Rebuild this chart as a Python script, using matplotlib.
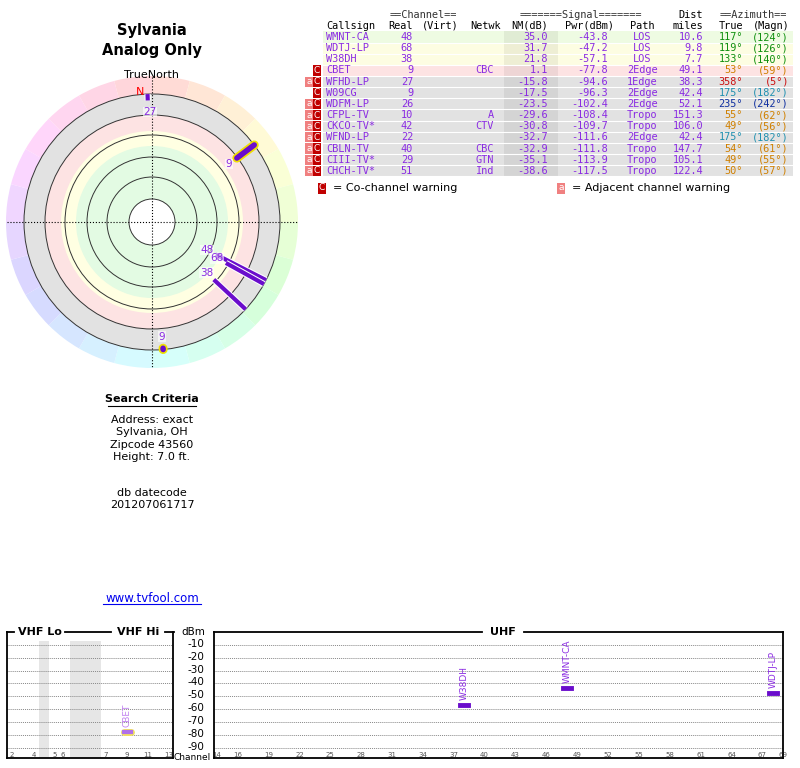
import matplotlib
matplotlib.use("Agg")
import matplotlib.pyplot as plt
import matplotlib.patches as mp
import numpy as np
import colorsys

callsigns = ["WMNT-CA","WDTJ-LP","W38DH","CBET","WFHD-LP","W09CG","WDFM-LP","CFPL-TV","CKCO-TV*","WFND-LP","CBLN-TV","CIII-TV*","CHCH-TV*"]
real_ch = [48,68,38,9,27,9,26,10,42,22,40,29,51]
netwk = ["","","","CBC","","","","A","CTV","","CBC","GTN","Ind"]
nm_db = [35.0,31.7,21.8,1.1,-15.8,-17.5,-23.5,-29.6,-30.8,-32.7,-32.9,-35.1,-38.6]
pwr_dbm = [-43.8,-47.2,-57.1,-77.8,-94.6,-96.3,-102.4,-108.4,-109.7,-111.6,-111.8,-113.9,-117.5]
path = ["LOS","LOS","LOS","2Edge","1Edge","2Edge","2Edge","Tropo","Tropo","2Edge","Tropo","Tropo","Tropo"]
dist = [10.6,9.8,7.7,49.1,38.3,42.4,52.1,151.3,106.0,42.4,147.7,105.1,122.4]
az_true = [117,119,133,53,358,175,235,55,49,175,54,49,50]
az_magn = [124,126,140,59,5,182,242,62,56,182,61,55,57]
warn_a = [False,False,False,False,True,False,True,True,True,True,True,True,True]
warn_c = [False,False,False,True,True,True,True,True,True,True,True,True,True]

# radar: stations drawn, with inner start radius (fraction of outer ring)
radar_ch = [48,68,38,9,27,9]
radar_az = [117,119,133,53,358,175]
radar_start = [0.56,0.66,0.66,0.83,0.95,0.99]
radar_analog = [False,False,False,True,False,True]

spec_call = ["CBET","W38DH","WMNT-CA","WDTJ-LP"]
spec_ch = [9,38,48,68]
spec_pwr = [-77.8,-57.1,-43.8,-47.2]
spec_analog = [True,False,False,False]

dbm_ticks = [-10,-20,-30,-40,-50,-60,-70,-80,-90]
vhf_ticks = [2,4,5,6,7,9,11,13]
uhf_ticks = [14,16,19,22,25,28,31,34,37,40,43,46,49,52,55,58,61,64,67,69]

PURPLE = "#8a2be2"
fig = plt.figure(figsize=(8,7.68), dpi=100)
ax = fig.add_axes([0,0,1,1])
ax.set_xlim(0,800); ax.set_ylim(768,0); ax.axis("off")
mono = "DejaVu Sans Mono"

# ---- left titles
ax.text(152,30,"Sylvania",ha="center",va="center",fontsize=10.5,fontweight="bold")
ax.text(152,51,"Analog Only",ha="center",va="center",fontsize=10.5,fontweight="bold")
ax.text(152,75,"TrueNorth",ha="center",va="center",fontsize=8)

# ---- radar
cx, cy = 152, 222
R = 128
for a0 in range(0,360,15):
    h = ((a0+7.5)/360.0) % 1.0
    r,g,b = colorsys.hsv_to_rgb(h,1,1)
    col = (1-0.16*(1-r),1-0.16*(1-g),1-0.16*(1-b))
    ax.add_patch(mp.Wedge((cx,cy),146,a0-90,a0+15-90,width=18,color=col,lw=0))
bands = [(128,"#e2e2e2"),(107,"#fde3e3"),(91,"#ffffe2"),(76,"#e3fbe3")]
for rr,c in bands:
    ax.add_patch(mp.Circle((cx,cy),rr,color=c,lw=0))
ax.add_patch(mp.Circle((cx,cy),23,color="white",lw=0))
for rr in [128,107,87,65,45,23]:
    ax.add_patch(mp.Circle((cx,cy),rr,fill=False,ec="#333333",lw=0.7))
ax.plot([7,297],[cy,cy],color="black",ls=":",lw=0.8)
ax.plot([cx,cx],[77,367],color="black",ls=":",lw=0.8)
ax.text(140,92,"N",color="red",fontsize=8,ha="center",va="center")
for ch,az,st,an in zip(radar_ch,radar_az,radar_start,radar_analog):
    t = np.deg2rad(az)
    dx, dy = np.sin(t), -np.cos(t)
    r0 = st*R
    x0,y0,x1,y1 = cx+r0*dx, cy+r0*dy, cx+R*dx, cy+R*dy
    if an:
        ax.plot([x0,x1],[y0,y1],color="#f0e000",lw=6.5,solid_capstyle="round")
        ax.plot([x0,x1],[y0,y1],color="#6a0dcc",lw=4,solid_capstyle="round")
    else:
        ax.plot([x0,x1],[y0,y1],color="white",lw=4.5,solid_capstyle="butt")
        ax.plot([x0,x1],[y0,y1],color="#6a0dcc",lw=3,solid_capstyle="butt")
    rl = r0-10 if r0 < R-5 else R-13
    lx, ly = cx+rl*dx, cy+rl*dy
    if az == 175: lx, ly = cx+(R-13)*dx, cy+(R-13)*dy
    if az == 358: lx, ly = cx+(R-18)*dx+2, cy+(R-18)*dy
    ax.text(lx,ly,str(ch),color=PURPLE,fontsize=7.5,ha="center",va="center",
            bbox=dict(fc="white",ec="none",alpha=0.6,pad=0.3))

# ---- search criteria
ax.text(152,399,"Search Criteria",ha="center",va="center",fontsize=8,fontweight="bold")
ax.plot([108,196],[406,406],color="black",lw=0.8)
for i,s in enumerate(["Address: exact","Sylvania, OH","Zipcode 43560","Height: 7.0 ft."]):
    ax.text(152,420+12.3*i,s,ha="center",va="center",fontsize=8)
ax.text(152,493,"db datecode",ha="center",va="center",fontsize=8)
ax.text(152,505,"201207061717",ha="center",va="center",fontsize=8)
ax.text(152,598,"www.tvfool.com",ha="center",va="center",fontsize=8.5,color="#0000ee")
ax.plot([103,201],[604,604],color="#0000ee",lw=0.8)

# ---- table
fs = 7.4
y0 = 37; dy = 11.15
ax.text(423,15,"==Channel==",fontfamily=mono,fontsize=fs,ha="center",va="center",color="#333333")
ax.text(581,15,"=======Signal=======",fontfamily=mono,fontsize=fs,ha="center",va="center",color="#333333")
ax.text(703,15,"Dist",fontfamily=mono,fontsize=fs,ha="right",va="center")
ax.text(753,15,"==Azimuth==",fontfamily=mono,fontsize=fs,ha="center",va="center",color="#333333")
hdr = [(326,"Callsign","left"),(413,"Real","right"),(459,"(Virt)","right"),(501,"Netwk","right"),
       (548,"NM(dB)","right"),(614,"Pwr(dBm)","right"),(642,"Path","center"),(703,"miles","right"),
       (743,"True","right"),(790,"(Magn)","right")]
for x,s,ha in hdr:
    ax.text(x,26,s,fontfamily=mono,fontsize=fs,ha=ha,va="center")
def azcol(a):
    if a in (117,119,133): return "#109010"
    if a == 358: return "#cc1010"
    if a == 175: return "#2090b0"
    if a == 235: return "#1030a0"
    return "#d08000"
for i in range(len(callsigns)):
    y = y0+dy*i
    bg = "#eefbe2" if i == 0 else ("#fdfde2" if i < 3 else ("#fde3e3" if i == 3 else "#e2e2e2"))
    ax.add_patch(mp.Rectangle((323,y-dy/2),470,dy,color=bg,lw=0))
    ax.plot([323,793],[y+dy/2,y+dy/2],color="white",lw=0.8)
    ax.add_patch(mp.Rectangle((504,y-dy/2),54,dy,color="black",alpha=0.06,lw=0))
    if warn_c[i]:
        ax.add_patch(mp.Rectangle((313,y-dy/2+0.5),8,dy-1,color="#c00000",lw=0))
        ax.text(317,y,"C",color="white",fontsize=6.5,ha="center",va="center")
    if warn_a[i]:
        ax.add_patch(mp.Rectangle((305,y-dy/2+0.5),8,dy-1,color="#f08080",lw=0))
        ax.text(309,y,"a",color="white",fontsize=6.5,ha="center",va="center")
    kw = dict(fontfamily=mono,fontsize=fs,va="center",color=PURPLE)
    ax.text(326,y,callsigns[i],ha="left",**kw)
    ax.text(413,y,str(real_ch[i]),ha="right",**kw)
    ax.text(494,y,netwk[i],ha="right",**kw)
    ax.text(548,y,f"{nm_db[i]:.1f}",ha="right",**kw)
    ax.text(608,y,f"{pwr_dbm[i]:.1f}",ha="right",**kw)
    ax.text(642,y,path[i],ha="center",**kw)
    ax.text(703,y,f"{dist[i]:.1f}",ha="right",**kw)
    kw["color"] = azcol(az_true[i])
    ax.text(743,y,f"{az_true[i]}°",ha="right",**kw)
    ax.text(789,y,f"({az_magn[i]}°)",ha="right",**kw)
ly = 188
ax.add_patch(mp.Rectangle((318,ly-5.5),8,11,color="#c00000",lw=0))
ax.text(322,ly,"C",color="white",fontsize=6.5,ha="center",va="center")
ax.text(333,ly,"= Co-channel warning",fontsize=8,va="center")
ax.add_patch(mp.Rectangle((557,ly-5.5),8,11,color="#f08080",lw=0))
ax.text(561,ly,"a",color="white",fontsize=6.5,ha="center",va="center")
ax.text(572,ly,"= Adjacent channel warning",fontsize=8,va="center")

# ---- spectrum
def px2fig(x0,x1,ytop,ybot):
    return [x0/800,1-ybot/768,(x1-x0)/800,(ybot-ytop)/768]
vhf_pos = [12,34,55,63,106,127,148,169]
vax = fig.add_axes(px2fig(7,173,632,758))
uax = fig.add_axes(px2fig(214,783,632,758))
for a in (vax,uax):
    a.set_ylim(-98,0)
    a.patch.set_alpha(0)
    a.spines["top"].set_visible(False)
    for s in a.spines.values(): s.set_linewidth(1.3)
    a.set_yticks([])
    for v in dbm_ticks:
        a.axhline(v,color="#888888",ls=(0,(1,1)),lw=0.7)
    a.tick_params(axis="x",length=0,labelsize=5,pad=-4)
vax.set_xlim(7,173)
vax.axvspan(39,49,ymax=0.93,color="#e6e6e6",lw=0)
vax.axvspan(70,101,ymax=0.93,color="#e6e6e6",lw=0)
vax.set_xticks(vhf_pos); vax.set_xticklabels([str(t) for t in vhf_ticks])
uax.set_xlim(13.7,68.6)
uax.set_xticks(uhf_ticks); uax.set_xticklabels([str(t) for t in uhf_ticks])
for a in (vax,uax):
    for lab in a.get_xticklabels():
        lab.set_bbox(dict(fc="white",ec="none",pad=0.5))
        lab.set_color("#555555")
for xa,xb in [(7,14),(65,111),(165,174),(214,482),(524,783)]:
    ax.plot([xa,xb],[632,632],color="black",lw=1.3)
ax.text(40,632,"VHF Lo",fontsize=8,fontweight="bold",ha="center",va="center")
ax.text(138,632,"VHF Hi",fontsize=8,fontweight="bold",ha="center",va="center")
ax.text(503,632,"UHF",fontsize=8,fontweight="bold",ha="center",va="center")
ax.text(193,632,"dBm",fontsize=7.5,ha="center",va="center")
for v in dbm_ticks:
    yy = 631 + (-v)*(126/98)
    ax.text(196,yy,str(v),fontsize=7.5,ha="center",va="center")
ax.text(192,758,"Channel",fontsize=6.5,ha="center",va="center")
ch2vx = dict(zip(vhf_ticks,vhf_pos))
for c,ch,p,an in zip(spec_call,spec_ch,spec_pwr,spec_analog):
    if ch <= 13:
        a, x, w = vax, ch2vx[ch], 7
    else:
        a, x, w = uax, ch, 0.8
    if an:
        a.plot([x-w/2,x+w/2],[p,p],color="#f0e060",lw=5,solid_capstyle="round")
        a.plot([x-w/2,x+w/2],[p,p],color="#b070e8",lw=3)
        a.text(x,p+4,c,rotation=90,fontsize=6.5,color="#c080f0",ha="center",va="bottom")
    else:
        a.plot([x-w/2,x+w/2],[p,p],color="#6a0dcc",lw=3.5)
        a.text(x,p+4,c,rotation=90,fontsize=6.5,color=PURPLE,ha="center",va="bottom")

fig.savefig("out.png",dpi=100)
